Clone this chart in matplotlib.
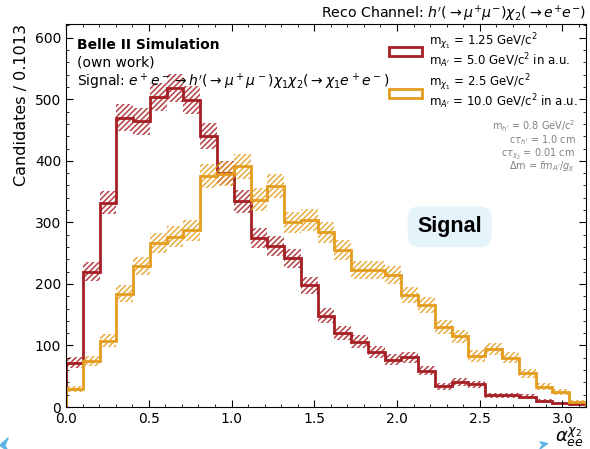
import numpy as np
import matplotlib
matplotlib.use("Agg")
import matplotlib.pyplot as plt
from matplotlib.patches import Patch, Polygon
from matplotlib.ticker import MultipleLocator

# Histogram contents per bin (31 bins from 0 to pi)
n_bins = 31
red_counts = [72, 220, 332, 470, 464, 504, 518, 499, 441, 380, 334, 275, 262, 242, 198,
              148, 120, 106, 89, 77, 81, 59, 34, 41, 37, 19, 19, 17, 10, 6, 5]
orange_counts = [29, 75, 108, 184, 229, 267, 277, 287, 375, 379, 391, 337, 359, 300, 304,
                 284, 255, 223, 223, 214, 182, 166, 130, 115, 83, 94, 80, 55, 33, 24, 8]

red_label = "m$_{\\chi_1}$ = 1.25 GeV/c$^2$\nm$_{A'}$ = 5.0 GeV/c$^2$ in a.u."
orange_label = "m$_{\\chi_1}$ = 2.5 GeV/c$^2$\nm$_{A'}$ = 10.0 GeV/c$^2$ in a.u."
info_lines = ["m$_{h'}$ = 0.8 GeV/c$^2$",
              "c$\\tau_{h'}$ = 1.0 cm",
              "c$\\tau_{\\chi_2}$ = 0.01 cm",
              "$\\Delta$m = $f m_{A'}/g_{\\chi}$"]

red = "#a51f24"
orange = "#e49d1f"

plt.rcParams['hatch.linewidth'] = 1.1

edges = np.linspace(0, np.pi, n_bins + 1)
width = edges[1] - edges[0]

fig = plt.figure(figsize=(5.9, 4.49), dpi=100)
ax = fig.add_axes([0.112, 0.0935, 0.881, 0.852])

for counts, color, label in [(red_counts, red, red_label), (orange_counts, orange, orange_label)]:
    c = np.array(counts, dtype=float)
    err = np.sqrt(c)
    ax.bar(edges[:-1], 2 * err, bottom=c - err, width=width, align='edge',
           facecolor='none', edgecolor=color, hatch='//////', linewidth=0, alpha=0.85)
    ax.stairs(c, edges, color=color, linewidth=2.0)

ax.set_xlim(0, np.pi)
ax.set_ylim(0, 1.2 * max(red_counts))

ax.xaxis.set_major_locator(MultipleLocator(0.5))
ax.xaxis.set_minor_locator(MultipleLocator(0.1))
ax.yaxis.set_major_locator(MultipleLocator(100))
ax.yaxis.set_minor_locator(MultipleLocator(20))
ax.tick_params(which='both', direction='in', top=True, right=True, labelsize=10)
ax.tick_params(which='major', length=5)
ax.tick_params(which='minor', length=2.5)

ax.set_ylabel("Candidates / %.4f" % width, loc='top', fontsize=11.5)
ax.set_xlabel("$\\alpha_{ee}^{\\chi_2}$", fontsize=13, ha='right', va='top')
ax.xaxis.set_label_coords(0.997, -0.05)
ax.set_title("Reco Channel: $h'(\\to\\mu^{+}\\mu^{-})\\chi_2(\\to e^{+}e^{-})$",
             loc='right', fontsize=10.2, pad=4)

ax.text(0.021, 0.965, "Belle II Simulation", transform=ax.transAxes,
        fontsize=10, fontweight='bold', va='top')
ax.text(0.021, 0.92, "(own work)", transform=ax.transAxes, fontsize=10, va='top')
ax.text(0.021, 0.877,
        "Signal: $e^+e^-\\to h'(\\to\\mu^+\\mu^-)\\chi_1\\chi_2(\\to\\chi_1 e^+e^-)$",
        transform=ax.transAxes, fontsize=10, va='top')

handles = [Patch(facecolor='none', edgecolor=red, linewidth=2, label=red_label),
           Patch(facecolor='none', edgecolor=orange, linewidth=2, label=orange_label)]
leg = ax.legend(handles=handles, loc='upper left', bbox_to_anchor=(0.6, 1.01),
                frameon=False, fontsize=8.5, handlelength=2.8, handleheight=0.8,
                handletextpad=0.6, labelspacing=0.25)
for t in leg.get_texts():
    t.set_linespacing(0.95)

for i, line in enumerate(info_lines):
    ax.text(0.98, 0.735 - i * 0.036, line, transform=ax.transAxes, fontsize=7,
            color='gray', ha='right', va='center')

ax.text(0.738, 0.471, "Signal", transform=ax.transAxes, fontsize=15.5,
        fontweight='bold', family='Liberation Sans', ha='center', va='center',
        bbox=dict(boxstyle='round,pad=0.45,rounding_size=0.5',
                  facecolor='#e5f3fb', edgecolor='none'))

# small arrow heads at the lower edge of the canvas
fig.patches.append(Polygon([[0.0, 0.008], [0.014, 0.025], [0.008, 0.008], [0.014, -0.005]],
                           closed=True, transform=fig.transFigure, color='#5ab4e5'))
fig.patches.append(Polygon([[0.915, 0.016], [0.928, 0.012], [0.915, 0.0], [0.92, 0.01]],
                           closed=True, transform=fig.transFigure, color='#5ab4e5'))

fig.savefig("out.png", dpi=100)
